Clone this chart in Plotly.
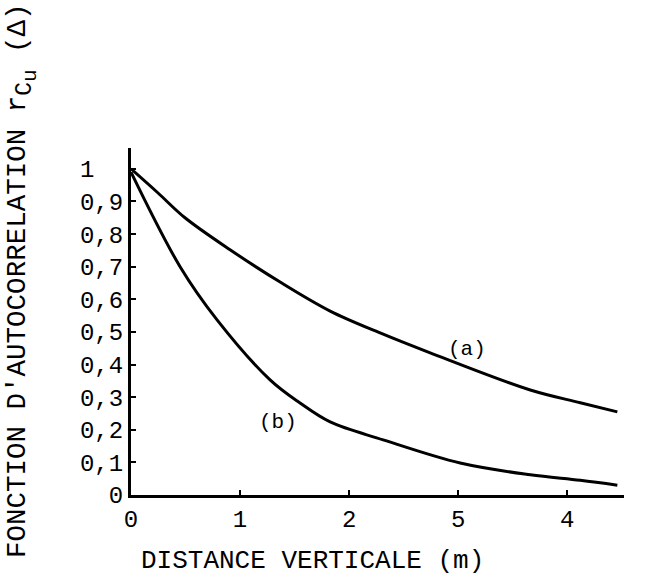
import plotly.graph_objects as go

# Data
x_a = [0, 0.248, 0.495, 0.908, 1.367, 1.826, 2.284, 2.743, 3.661, 4.119, 4.459]
y_a = [1.0, 0.926, 0.85, 0.752, 0.653, 0.564, 0.497, 0.436, 0.322, 0.283, 0.255]

x_b = [0, 0.45, 0.789, 1.275, 1.55, 1.826, 2.312, 3.018, 3.661, 4.119, 4.459]
y_b = [0.99, 0.70, 0.537, 0.353, 0.282, 0.224, 0.169, 0.098, 0.062, 0.045, 0.03]

x_tickvals = [0, 1, 2, 3, 4]
x_ticktext = ["0", "1", "2", "5", "4"]
y_tickvals = [0, 0.1, 0.2, 0.3, 0.4, 0.5, 0.6, 0.7, 0.8, 0.9, 1.0]
y_ticktext = ["0", "0,1", "0,2", "0,3", "0,4", "0,5", "0,6", "0,7", "0,8", "0,9", "1\u00a0\u00a0"]

FONT = "Liberation Mono, Courier New, monospace"

fig = go.Figure()
fig.add_trace(go.Scatter(x=x_a, y=y_a, mode="lines", line=dict(color="black", width=3, shape="spline"),
                         showlegend=False))
fig.add_trace(go.Scatter(x=x_b, y=y_b, mode="lines", line=dict(color="black", width=3, shape="spline"),
                         showlegend=False))

fig.add_annotation(x=3.08, y=0.445, text="(a)", showarrow=False, font=dict(family=FONT, size=21, color="black"))
fig.add_annotation(x=1.35, y=0.221, text="(b)", showarrow=False, font=dict(family=FONT, size=21, color="black"))

fig.add_annotation(xref="paper", yref="paper", x=-0.22, y=0.6185, textangle=-90,
                   text="FONCTION D'AUTOCORRELATION r<sub><span style='font-size:23px'>C<sub><span style='font-size:21px'>u</span></sub></span></sub> (Δ)",
                   showarrow=False, xanchor="center", yanchor="middle",
                   font=dict(family=FONT, size=27.5, color="black"))
fig.add_annotation(xref="paper", yref="paper", x=0.369, y=-0.19,
                   text="DISTANCE VERTICALE (m)", showarrow=False, xanchor="center", yanchor="middle",
                   font=dict(family=FONT, size=26, color="black"))

fig.update_xaxes(range=[0, 4.52], tickvals=x_tickvals, ticktext=x_ticktext, showline=True,
                 linecolor="black", linewidth=3, ticks="inside", ticklen=5, tickwidth=2, tickcolor="black",
                 showgrid=False, zeroline=False, tickfont=dict(family=FONT, size=24, color="black"))
fig.update_yaxes(range=[0, 1.064], tickvals=y_tickvals, ticktext=y_ticktext, showline=True,
                 linecolor="black", linewidth=3, ticks="inside", ticklen=5, tickwidth=2, tickcolor="black",
                 showgrid=False, zeroline=False, tickfont=dict(family=FONT, size=24, color="black"))

fig.update_layout(width=662, height=575, margin=dict(l=131, r=38, t=148, b=80),
                  plot_bgcolor="white", paper_bgcolor="white")

fig.write_html("out.html")
